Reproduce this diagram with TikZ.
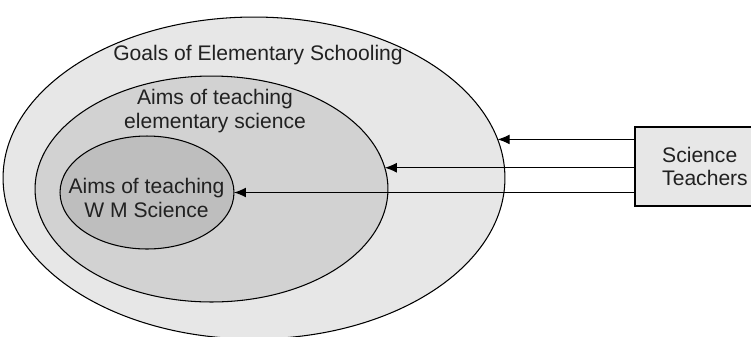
\documentclass[tikz,border=0pt]{standalone}
\usepackage{fontspec}
\setmainfont{Liberation Sans}
\usetikzlibrary{positioning}
\usetikzlibrary{shapes.geometric}
\usetikzlibrary{arrows.meta}

\definecolor{goalgray}{gray}{0.905}
\definecolor{aimgray}{gray}{0.825}
\definecolor{wmgray}{gray}{0.745}
\definecolor{inkgray}{gray}{0.13}

\tikzset{
  blob/.style={ellipse,draw=black,line width=0.6pt,inner sep=0pt,outer sep=0pt},
  txt/.style={font=\fontsize{12}{13.2}\selectfont,text=inkgray,align=center,inner sep=0pt},
  arr/.style={-{Latex[length=6.8pt,width=5.6pt]},line width=0.6pt}
}

\begin{document}
\begin{tikzpicture}[x=0.02cm,y=-0.02cm]
 \useasboundingbox (0,0) rectangle (751,336);
 % nested ellipses
 \node[blob,fill=goalgray,minimum width=10.04cm,minimum height=6.44cm] (goals) at (254,178) {};
 \node[blob,fill=aimgray,minimum width=7.06cm,minimum height=4.52cm] (elem) at (211.5,189) {};
 \node[blob,fill=wmgray,minimum width=3.48cm,minimum height=2.26cm] (wm) at (147,192.5) {};
 \node[txt] (goalslbl) at (258,55) {Goals of Elementary Schooling};
 \node[txt] (elemlbl) at (215,111) {Aims of teaching\\elementary science};
 \node[txt] (wmlbl) at (146.5,198) {Aims of teaching\\W M Science};
 % teachers box
 \node[draw=black,line width=0.6pt,fill=goalgray,minimum width=2.8cm,minimum height=1.58cm,txt,align=left] (teach) at (705,166.5) {Science\\Teachers};
 \draw[arr] (teach.west |- goals.9.35) -- (goals.9.35);
 \draw[arr] (teach.west |- elem.7.24) -- (elem.7.24);
 \draw[arr] (teach.west |- wm.-0.9) -- (wm.-0.9);
\end{tikzpicture}
\end{document}
